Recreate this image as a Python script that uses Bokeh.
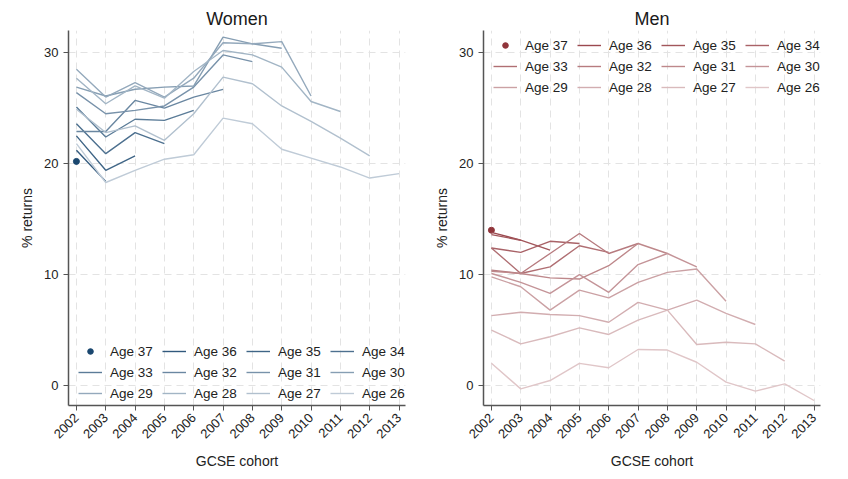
from bokeh.plotting import figure
from bokeh.layouts import row
from bokeh.models import Legend, LegendItem, FixedTicker, Range1d
from bokeh.embed import file_html
from bokeh.resources import INLINE

# GCSE cohorts on the x axis
COHORTS = list(range(2002, 2014))
AGES = [37, 36, 35, 34, 33, 32, 31, 30, 29, 28, 27, 26]
Y_TICKS = [0, 10, 20, 30]

# % returns for women, one list per age (cohorts from 2002 onwards)
W_37 = [20.2]
W_36 = [21.2, 18.4]
W_35 = [22.5, 19.4, 20.7]
W_34 = [23.6, 20.9, 22.8, 21.8]
W_33 = [25.1, 22.4, 24.0, 23.9, 24.8]
W_32 = [22.9, 22.9, 25.7, 25.0, 26.0, 26.7]
W_31 = [26.4, 24.5, 24.8, 25.2, 26.9, 29.8, 29.2]
W_30 = [26.9, 26.1, 26.7, 26.9, 27.0, 31.4, 30.8, 30.4]
W_29 = [28.5, 26.0, 27.3, 26.0, 27.7, 30.9, 30.8, 31.0, 26.1]
W_28 = [27.7, 25.4, 27.0, 25.9, 28.3, 30.2, 29.8, 28.7, 25.6, 24.7]
W_27 = [24.9, 22.8, 23.4, 22.1, 24.5, 27.8, 27.2, 25.2, 23.8, 22.3, 20.7]
W_26 = [21.8, 18.3, 19.4, 20.4, 20.8, 24.1, 23.6, 21.3, 20.5, 19.7, 18.7, 19.1]

# % returns for men
M_37 = [14.0]
M_36 = [13.8, 13.1]
M_35 = [13.6, 13.1, 12.2]
M_34 = [12.4, 12.0, 13.0, 12.8]
M_33 = [12.4, 10.1, 10.7, 12.6, 12.0]
M_32 = [10.4, 10.1, 11.9, 13.7, 11.9, 12.8]
M_31 = [10.3, 10.1, 9.7, 9.6, 10.8, 12.8, 11.9]
M_30 = [10.1, 9.3, 8.3, 10.0, 8.4, 10.9, 11.9, 10.7]
M_29 = [9.8, 8.9, 6.8, 8.6, 7.9, 9.3, 10.2, 10.5, 7.6]
M_28 = [6.3, 6.6, 6.4, 6.3, 5.7, 7.5, 6.8, 7.7, 6.5, 5.5]
M_27 = [5.0, 3.75, 4.4, 5.2, 4.6, 5.9, 6.8, 3.7, 3.9, 3.75, 2.2]
M_26 = [2.0, -0.3, 0.45, 2.0, 1.6, 3.25, 3.2, 2.1, 0.3, -0.5, 0.15, -1.35]

WOMEN = [W_37, W_36, W_35, W_34, W_33, W_32, W_31, W_30, W_29, W_28, W_27, W_26]
MEN = [M_37, M_36, M_35, M_34, M_33, M_32, M_31, M_30, M_29, M_28, M_27, M_26]

FONT = "Liberation Sans"
NAVY = (26, 71, 111)
MAROON = (144, 53, 59)


def shade(base, t):
    return "#%02x%02x%02x" % tuple(int(round(255 - (255 - c) * t)) for c in base)


def intensity(age):
    if age == 37:
        return 1.0
    return 0.28 + (age - 26) / 10 * 0.62


def panel(title, series, base, left_border, legend_loc):
    p = figure(
        frame_width=337, frame_height=375,
        min_border_left=left_border, min_border_right=424 - 337 - left_border,
        min_border_top=30, min_border_bottom=74,
        x_range=Range1d(2001.73, 2013.22), y_range=Range1d(-1.8, 32.0),
        output_backend="svg", toolbar_location=None,
        background_fill_color="white", border_fill_color="white",
    )
    p.outline_line_color = None
    p.title.text = title
    p.title.align = "center"
    p.title.text_font = FONT
    p.title.text_font_style = "normal"
    p.title.text_font_size = "18px"
    p.title.text_color = "#1a1a1a"
    p.title.standoff = 3

    items = []
    for age, vals in zip(AGES, series):
        xs = COHORTS[:len(vals)]
        color = shade(base, intensity(age))
        if len(vals) == 1:
            r = p.scatter(xs, vals, size=6, color=color)
        else:
            r = p.line(xs, vals, line_color=color, line_width=1.4)
        items.append(LegendItem(label=f"Age {age}", renderers=[r]))

    p.xaxis.ticker = FixedTicker(ticks=COHORTS)
    p.yaxis.ticker = FixedTicker(ticks=Y_TICKS)
    p.xgrid.ticker = FixedTicker(ticks=COHORTS)
    p.ygrid.ticker = FixedTicker(ticks=Y_TICKS)
    for g in (p.xgrid, p.ygrid):
        g.grid_line_color = "#e3e3e3"
        g.grid_line_dash = "7 5"
        g.grid_line_width = 1

    p.xaxis.major_label_orientation = 0.785398
    p.xaxis.axis_label = "GCSE cohort"
    p.yaxis.axis_label = "% returns"
    for ax in (p.xaxis, p.yaxis):
        ax.axis_line_color = "#555555"
        ax.axis_line_width = 1.5
        ax.major_tick_line_color = "#555555"
        ax.major_tick_out = 5
        ax.major_tick_in = 0
        ax.minor_tick_line_color = None
        ax.major_label_text_font = FONT
        ax.major_label_text_font_size = "13px"
        ax.major_label_text_color = "#222222"
        ax.axis_label_text_font = FONT
        ax.axis_label_text_font_size = "14px"
        ax.axis_label_text_font_style = "normal"
        ax.axis_label_text_color = "#222222"
    p.xaxis.axis_label_standoff = 8
    p.yaxis.axis_label_standoff = 6

    legend = Legend(
        items=items, orientation="horizontal", ncols=4, location=legend_loc,
        background_fill_alpha=0, border_line_alpha=0, padding=0, margin=0,
        spacing=5, glyph_width=24, glyph_height=14, label_standoff=8,
        label_width=47, label_height=16,
        label_text_font=FONT, label_text_font_size="13.5px", label_text_color="#222222",
    )
    p.add_layout(legend, "center")
    return p


women = panel("Women", WOMEN, NAVY, 68, (10, 4))
men = panel("Men", MEN, MAROON, 59, (10, 310))

layout = row(women, men)
open("out.html", "w").write(file_html(layout, INLINE))
